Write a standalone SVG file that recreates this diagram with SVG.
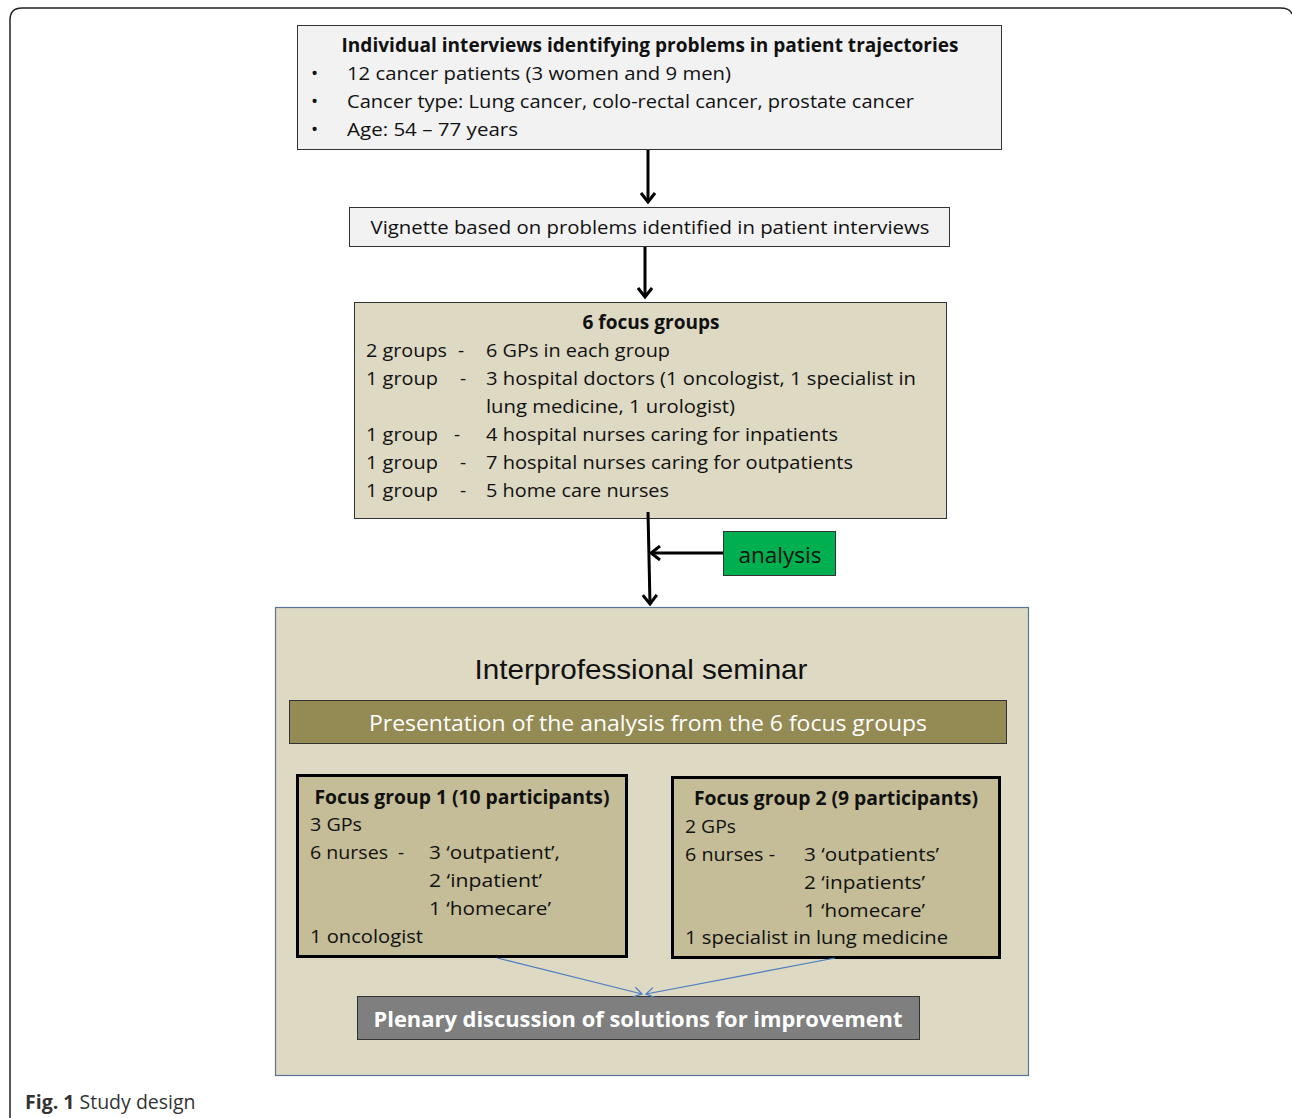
<svg xmlns="http://www.w3.org/2000/svg" width="1292" height="1118" viewBox="0 0 1292 1118">
<style>
.t{font-family:"Open Sans","Noto Sans",sans-serif;font-size:19px;fill:#111}
.b{font-weight:bold}
.c{text-anchor:middle}
.box{stroke:#333;stroke-width:1}
.conn{stroke:#000;stroke-width:3;fill:none}
.blue{stroke:#4a7cc0;stroke-width:1.2;fill:none}
</style>
<defs>
<marker id="ah" viewBox="0 0 12 16" refX="10" refY="8" markerWidth="12" markerHeight="16" markerUnits="userSpaceOnUse" orient="auto">
<path d="M1,1 L10,8 L1,15" fill="none" stroke="#000" stroke-width="3"/>
</marker>
<marker id="bh" viewBox="0 0 10 12" refX="9" refY="6" markerWidth="10" markerHeight="12" markerUnits="userSpaceOnUse" orient="auto">
<path d="M1,1 L9,6 L1,11" fill="none" stroke="#4a7cc0" stroke-width="1.2"/>
</marker>
</defs>
<rect width="1292" height="1118" fill="#fff"/>
<path d="M10,1118 L10,20 Q10,8 22,8 L1280,8 Q1290,8 1292,14" fill="none" stroke="#222" stroke-width="1.5"/>

<g id="interviews">
<rect class="box" x="297.5" y="25.5" width="704" height="124" fill="#f2f2f2"/>
<text class="t b c" x="650" y="52" textLength="617" lengthAdjust="spacingAndGlyphs">Individual interviews identifying problems in patient trajectories</text>
<text class="t" x="311" y="80">•</text>
<text class="t" x="347" y="80" textLength="384" lengthAdjust="spacingAndGlyphs">12 cancer patients (3 women and 9 men)</text>
<text class="t" x="311" y="108">•</text>
<text class="t" x="347" y="108" textLength="567" lengthAdjust="spacingAndGlyphs">Cancer type: Lung cancer, colo-rectal cancer, prostate cancer</text>
<text class="t" x="311" y="136">•</text>
<text class="t" x="347" y="136" textLength="171" lengthAdjust="spacingAndGlyphs">Age: 54 – 77 years</text>
</g>

<g id="vignette">
<rect class="box" x="349.5" y="207.5" width="600" height="39" fill="#f2f2f2"/>
<text class="t c" x="650" y="234" textLength="559" lengthAdjust="spacingAndGlyphs">Vignette based on problems identified in patient interviews</text>
</g>

<g id="focusgroups">
<rect class="box" x="354.5" y="302.5" width="592" height="216" fill="#ddd9c3"/>
<text class="t b c" x="651" y="329" textLength="137" lengthAdjust="spacingAndGlyphs">6 focus groups</text>
<text class="t" x="366" y="357" textLength="81" lengthAdjust="spacingAndGlyphs">2 groups</text><text class="t" x="458" y="357">-</text>
<text class="t" x="486" y="357" textLength="184" lengthAdjust="spacingAndGlyphs">6 GPs in each group</text>
<text class="t" x="366" y="385" textLength="72" lengthAdjust="spacingAndGlyphs">1 group</text><text class="t" x="460" y="385">-</text>
<text class="t" x="486" y="385" textLength="430" lengthAdjust="spacingAndGlyphs">3 hospital doctors (1 oncologist, 1 specialist in</text>
<text class="t" x="486" y="413" textLength="249" lengthAdjust="spacingAndGlyphs">lung medicine, 1 urologist)</text>
<text class="t" x="366" y="441" textLength="72" lengthAdjust="spacingAndGlyphs">1 group</text><text class="t" x="454" y="441">-</text>
<text class="t" x="486" y="441" textLength="352" lengthAdjust="spacingAndGlyphs">4 hospital nurses caring for inpatients</text>
<text class="t" x="366" y="469" textLength="72" lengthAdjust="spacingAndGlyphs">1 group</text><text class="t" x="460" y="469">-</text>
<text class="t" x="486" y="469" textLength="367" lengthAdjust="spacingAndGlyphs">7 hospital nurses caring for outpatients</text>
<text class="t" x="366" y="497" textLength="72" lengthAdjust="spacingAndGlyphs">1 group</text><text class="t" x="460" y="497">-</text>
<text class="t" x="486" y="497" textLength="183" lengthAdjust="spacingAndGlyphs">5 home care nurses</text>
</g>

<g id="analysis">
<rect class="box" x="723.5" y="531.5" width="112" height="44" fill="#00b050"/>
<text class="t c" x="780" y="563" style="font-size:22px" textLength="83" lengthAdjust="spacingAndGlyphs">analysis</text>
</g>

<g id="seminar">
<rect x="275.5" y="607.5" width="753" height="468" fill="#ddd9c3" stroke="#5a7396" stroke-width="1.2"/>
<text x="641" y="679" text-anchor="middle" style="font-family:'Liberation Sans',Arial,sans-serif;font-size:28px;fill:#111" textLength="333" lengthAdjust="spacingAndGlyphs">Interprofessional seminar</text>
</g>

<g id="presentation">
<rect class="box" x="289.5" y="700.5" width="717" height="43" fill="#948a54"/>
<text class="t c" x="648" y="731" style="font-size:22px;fill:#fff" textLength="558" lengthAdjust="spacingAndGlyphs">Presentation of the analysis from the 6 focus groups</text>
</g>

<g id="fg1">
<rect x="297.5" y="775.5" width="329" height="181" fill="#c4bd97" stroke="#000" stroke-width="3"/>
<text class="t b c" x="462" y="804" textLength="295" lengthAdjust="spacingAndGlyphs">Focus group 1 (10 participants)</text>
<text class="t" x="310" y="831" textLength="52" lengthAdjust="spacingAndGlyphs">3 GPs</text>
<text class="t" x="310" y="859" textLength="78" lengthAdjust="spacingAndGlyphs">6 nurses</text><text class="t" x="398" y="859">-</text>
<text class="t" x="429" y="859" textLength="131" lengthAdjust="spacingAndGlyphs">3 ‘outpatient’,</text>
<text class="t" x="429" y="887" textLength="113" lengthAdjust="spacingAndGlyphs">2 ‘inpatient’</text>
<text class="t" x="429" y="915" textLength="122" lengthAdjust="spacingAndGlyphs">1 ‘homecare’</text>
<text class="t" x="310" y="943" textLength="113" lengthAdjust="spacingAndGlyphs">1 oncologist</text>
</g>

<g id="fg2">
<rect x="672.5" y="777.5" width="327" height="180" fill="#c4bd97" stroke="#000" stroke-width="3"/>
<text class="t b c" x="836" y="805" textLength="284" lengthAdjust="spacingAndGlyphs">Focus group 2 (9 participants)</text>
<text class="t" x="685" y="833" textLength="51" lengthAdjust="spacingAndGlyphs">2 GPs</text>
<text class="t" x="685" y="861" textLength="90" lengthAdjust="spacingAndGlyphs">6 nurses -</text>
<text class="t" x="804" y="861" textLength="135" lengthAdjust="spacingAndGlyphs">3 ‘outpatients’</text>
<text class="t" x="804" y="889" textLength="121" lengthAdjust="spacingAndGlyphs">2 ‘inpatients’</text>
<text class="t" x="804" y="917" textLength="121" lengthAdjust="spacingAndGlyphs">1 ‘homecare’</text>
<text class="t" x="685" y="944" textLength="263" lengthAdjust="spacingAndGlyphs">1 specialist in lung medicine</text>
</g>

<g id="plenary">
<rect class="box" x="357.5" y="996.5" width="562" height="43" fill="#7f7f7f"/>
<text class="t b c" x="638" y="1027" style="font-size:22px;fill:#fff" textLength="529" lengthAdjust="spacingAndGlyphs">Plenary discussion of solutions for improvement</text>
</g>

<g id="connectors">
<line class="conn" x1="648" y1="150" x2="648" y2="202" marker-end="url(#ah)"/>
<line class="conn" x1="645" y1="247" x2="645" y2="297" marker-end="url(#ah)"/>
<line class="conn" x1="648" y1="512" x2="650" y2="604" marker-end="url(#ah)"/>
<line class="conn" x1="723" y1="553" x2="651" y2="553" marker-end="url(#ah)"/>
<line class="blue" x1="497" y1="958" x2="642" y2="994" marker-end="url(#bh)"/>
<line class="blue" x1="835" y1="958" x2="646" y2="994" marker-end="url(#bh)"/>
</g>

<g id="caption">
<text x="25" y="1109" style="font-family:'Open Sans','Noto Sans',sans-serif;font-size:19.5px;fill:#333"><tspan font-weight="bold">Fig. 1</tspan> Study design</text>
</g>
</svg>
